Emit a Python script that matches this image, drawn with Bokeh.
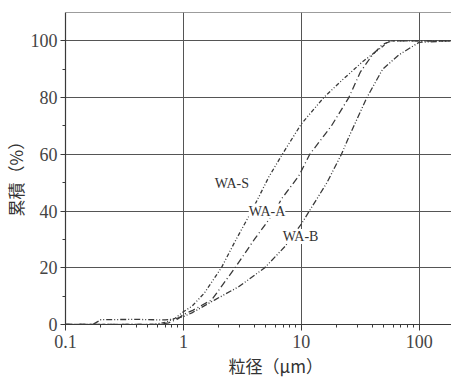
from bokeh.plotting import figure
from bokeh.models import Range1d, Span, Label, Title, LogTicker, FixedTicker
from bokeh.embed import file_html
from bokeh.resources import INLINE

# Cumulative particle-size distributions (size in um, cumulative %)
was_size = [0.1, 0.55, 0.7, 0.85, 1.0, 1.18, 1.5, 2.1, 2.8, 3.8, 5.3, 6.9, 10, 15.5, 22, 33, 49, 55, 188]
was_cum = [0, 0, 0.7, 2.2, 4.5, 6.4, 11, 20, 30, 40, 52, 60, 70.7, 80, 86, 92.6, 98, 100, 100]

waa_size = [0.1, 0.6, 0.75, 0.9, 1.0, 1.2, 1.74, 2.74, 4.0, 6.0, 6.8, 9.5, 11.8, 18, 25.3, 31.7, 40, 49, 59, 188]
waa_cum = [0, 0, 0.6, 2.0, 3.5, 5, 8.7, 20, 30, 40, 44.3, 52.3, 60, 70, 80, 89, 95, 98.8, 100, 100]

wab_size = [0.1, 0.17, 0.2, 0.4, 0.7, 0.85, 1.0, 1.18, 1.85, 2.94, 4.9, 7.3, 10, 11.7, 16.5, 21.9, 25.7, 36, 49, 67, 100, 188]
wab_cum = [0, 0, 1.7, 1.8, 1.6, 2.0, 2.8, 4.1, 8.7, 13.3, 20, 27.6, 35.4, 40, 50, 60, 66.7, 80, 90, 95, 99.5, 100]

series_names = ["WA-S", "WA-A", "WA-B"]
label_size = [2.58, 5.12, 9.86]
label_cum = [49.6, 40, 31]

y_ticks = [0, 20, 40, 60, 80, 100]
y_minor = [10, 30, 50, 70, 90]

ink = "#3a3a3a"
serif = "Liberation Serif"

p = figure(width=451, height=377, x_axis_type="log",
           x_range=Range1d(0.1, 188), y_range=Range1d(0, 110),
           output_backend="svg", toolbar_location=None,
           min_border_left=62, min_border_right=0, min_border_top=12,
           min_border_bottom=45)
p.background_fill_color = "white"
p.border_fill_color = "white"
p.outline_line_color = None

# axes
p.xaxis.ticker = LogTicker(num_minor_ticks=10)
p.yaxis.ticker = FixedTicker(ticks=y_ticks, minor_ticks=y_minor)
p.xaxis.major_label_overrides = {0.1: "0.1", 1: "1", 10: "10", 100: "100"}
p.axis.axis_line_color = ink
p.axis.axis_line_width = 1.2
p.axis.major_tick_line_color = ink
p.axis.minor_tick_line_color = ink
p.axis.major_label_text_font = serif
p.axis.major_label_text_font_size = "18px"
p.axis.major_label_text_color = "#444444"
p.axis.minor_tick_in = 0
p.axis.minor_tick_out = 3
p.xaxis.major_tick_in = 0
p.xaxis.major_tick_out = 6
p.yaxis.major_tick_in = 0
p.yaxis.major_tick_out = 5
p.xaxis.major_label_standoff = 4
p.yaxis.major_label_standoff = 3

# grid
p.xgrid.grid_line_color = "#555555"
p.ygrid.grid_line_color = "#555555"
p.xgrid.grid_line_width = 1
p.ygrid.grid_line_width = 1
p.add_layout(Span(location=110, dimension="width", line_color=ink, line_width=1.2))

# curves
p.line(was_size, was_cum, line_color=ink, line_width=1.3, line_dash="4 2 1 2 1 2")
p.line(waa_size, waa_cum, line_color=ink, line_width=1.3, line_dash="7 3 1 3")
p.line(wab_size, wab_cum, line_color=ink, line_width=1.3, line_dash="6 2 1 2 1 2")

for name, lx, ly in zip(series_names, label_size, label_cum):
    p.add_layout(Label(x=lx, y=ly, text=name, text_font=serif, text_font_size="14px",
                       text_color="#333333", text_align="center", text_baseline="middle",
                       background_fill_color="white", background_fill_alpha=1.0))

# axis titles
p.add_layout(Title(text="粒径（μm）", align="left", offset=163,
                   text_font="Noto Sans CJK JP", text_font_size="17px",
                   text_font_style="normal", text_color="#333333", standoff=0), "below")
p.add_layout(Title(text="累積（%）", align="left", offset=108,
                   text_font="Noto Sans CJK JP", text_font_size="17px",
                   text_font_style="normal", text_color="#333333", standoff=0), "left")

open("out.html", "w").write(file_html(p, INLINE))
